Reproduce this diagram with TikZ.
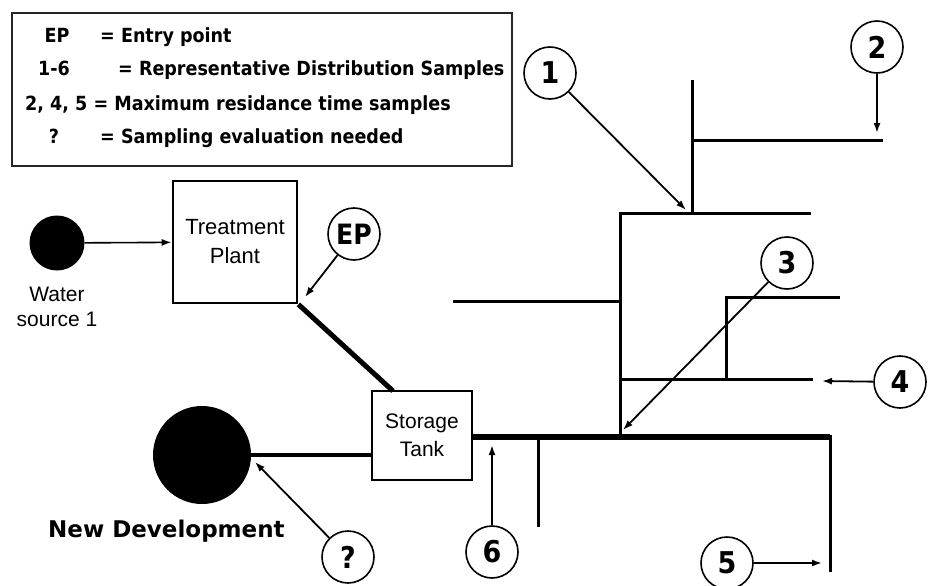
\documentclass[tikz,border=0pt]{standalone}
\usepackage{fontspec}
\setmainfont{Liberation Sans}
\newfontfamily\keyfont[FakeStretch=0.9]{DejaVu Sans}
\newfontfamily\labelfont{DejaVu Sans}
\usetikzlibrary{arrows.meta}

\tikzset{
  pipe/.style={line width=3pt},
  main pipe/.style={line width=5.5pt},
  sample arrow/.style={line width=1.8pt,-{Latex[length=10pt,width=7pt]}},
  sample point/.style={circle,draw,line width=1.6pt,minimum size=52pt,inner sep=0pt,
    font=\keyfont\bfseries\fontsize{30}{30}\selectfont},
  facility/.style={draw,line width=2.8pt,align=center,inner sep=0pt,
    font=\fontsize{22}{29}\selectfont},
  source/.style={circle,fill=black,inner sep=0pt},
  legend text/.style={inner sep=0pt,font=\keyfont\bfseries\fontsize{19.5}{20}\selectfont}
}

\begin{document}
\begin{tikzpicture}[x=1pt,y=-1pt]
  \useasboundingbox (0,0) rectangle (934,586);

  % legend
  \node[draw,line width=1.5pt,draw=black!85,minimum width=500pt,minimum height=153pt,
    inner sep=0pt] (legend) at (262,89.5) {};
  \node[legend text,anchor=base] (k1) at (57,43) {EP};
  \node[legend text,anchor=base west] (d1) at (100,43) {= Entry point};
  \node[legend text,anchor=base] (k2) at (54,75) {1-6};
  \node[legend text,anchor=base west] (d2) at (118,75) {= Representative Distribution Samples};
  \node[legend text,anchor=base west] (d3) at (25,110) {2, 4, 5 = Maximum residance time samples};
  \node[legend text,anchor=base] (k4) at (54,143) {?};
  \node[legend text,anchor=base west] (d4) at (100,143) {= Sampling evaluation needed};

  % sources and facilities
  \node[source,minimum size=55pt] (water) at (57,243) {};
  \node[anchor=north,align=center,inner sep=0pt,font=\fontsize{21}{25}\selectfont]
    (waterlabel) at (57,287) {Water\\source 1};
  \node[facility,minimum width=124pt,minimum height=122pt] (plant) at (235,242)
    {Treatment\\Plant};
  \node[facility,line width=2.5pt,minimum width=100pt,minimum height=89pt,
    font=\fontsize{21}{28}\selectfont] (tank) at (422,435.5) {Storage\\Tank};
  \node[source,minimum size=98pt] (newdev) at (202,455) {};
  \node[anchor=base west,inner sep=0pt,font=\labelfont\bfseries\fontsize{23}{23}\selectfont]
    (newdevlabel) at (48,537) {New Development};

  \draw[sample arrow,line width=1.6pt] (water) -- (plant);
  \draw[line width=5pt] (plant.south east) -- (393,391);
  \draw[line width=4pt] (newdev) -- (newdev -| tank.west);

  % distribution pipes
  \draw[main pipe] (tank.east |- 0,437) -- (830,437);
  \draw[pipe] (620,437) -- (620,213) -- (811,213);
  \draw[pipe] (692,213) -- (692,80);
  \draw[pipe] (692,140) -- (883,140);
  \draw[pipe] (453,301) -- (620,301);
  \draw[pipe] (620,379) -- (813,379);
  \draw[pipe] (726,379) -- (726,297) -- (840,297);
  \draw[pipe] (538,437) -- (538,527);
  \draw[pipe] (830,435) -- (830,572);

  % sample points
  \node[sample point,font=\keyfont\bfseries\fontsize{28}{28}\selectfont] (ep) at (354,234) {EP};
  \node[sample point] (s1) at (550,73) {1};
  \node[sample point] (s2) at (877,47) {2};
  \node[sample point] (s3) at (787,263) {3};
  \node[sample point] (s4) at (900,382) {4};
  \node[sample point] (s5) at (727,563) {5};
  \node[sample point] (s6) at (492,552) {6};
  \node[sample point] (sq) at (348,557) {?};

  \coordinate (tep) at (305,297);
  \coordinate (t1) at (686,210);
  \coordinate (t2) at (877,133);
  \coordinate (t3) at (623,430);
  \coordinate (t4) at (822,381);
  \coordinate (t5) at (822,563);
  \coordinate (t6) at (492,445);
  \coordinate (tq) at (255,462);

  \foreach \s/\t in {ep/tep,s1/t1,s2/t2,s3/t3,s4/t4,s5/t5,s6/t6,sq/tq}
    \draw[sample arrow] (\s) -- (\t);
\end{tikzpicture}
\end{document}
